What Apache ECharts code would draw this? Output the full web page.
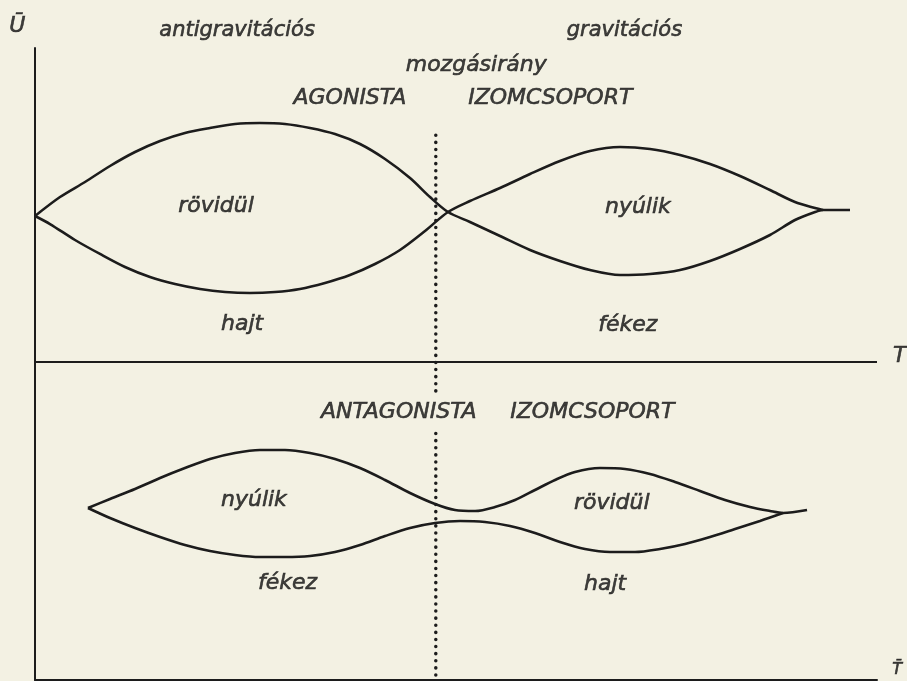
<!DOCTYPE html>
<html>
<head>
    <meta charset="UTF-8">
    <title>Agonista / antagonista izomcsoport</title>
    <script src="https://cdn.jsdelivr.net/npm/echarts@6/dist/echarts.min.js"></script>
</head>
<body style="margin: 0;overflow: hidden;background: #f3f1e3;">
<div id="chart" style="width: 907px;height: 681px;"></div>
<script type="text/javascript">
    // x: 0..100 idő (T), y: 0..100 (U)
    // agonista izomcsoport: felső-bal ív -> keresztezés -> alsó-jobb ív
    var agonistA = [
        [0, 73.42], [2.97, 76.42], [5.94, 78.80], [8.91, 81.33], [11.88, 83.54], [14.85, 85.28],
        [17.81, 86.55], [20.78, 87.34], [23.75, 87.97], [26.72, 88.13], [29.69, 87.97], [32.66, 87.34],
        [35.63, 86.39], [38.60, 84.81], [41.57, 82.44], [44.54, 79.43], [46.91, 76.42], [49.05, 74.05],
        [51.66, 72.47], [55.23, 70.25], [58.79, 68.04], [62.35, 66.30], [65.91, 64.87], [69.48, 64.08],
        [73.04, 64.24], [76.60, 64.87], [80.17, 66.30], [83.73, 68.20], [87.29, 70.41], [90.26, 72.78],
        [92.64, 74.05], [93.59, 74.37], [96.79, 74.37]
    ];
    // alsó-bal ív -> keresztezés -> felső-jobb ív
    var agonistB = [
        [0, 73.42], [1.78, 72.15], [4.75, 69.62], [7.72, 67.41], [10.69, 65.35], [13.66, 63.77],
        [16.63, 62.66], [19.60, 61.87], [22.57, 61.39], [25.53, 61.23], [28.50, 61.39], [31.47, 61.87],
        [34.44, 62.82], [37.41, 64.08], [40.38, 65.82], [43.35, 68.04], [46.32, 71.04], [49.05, 74.05],
        [51.66, 75.79], [55.23, 77.85], [58.79, 80.06], [62.35, 82.12], [65.91, 83.70], [69.48, 84.34],
        [73.04, 84.02], [76.60, 83.07], [80.17, 81.65], [83.73, 79.75], [87.29, 77.53], [90.26, 75.63],
        [92.64, 74.68], [93.59, 74.37]
    ];
    // antagonista izomcsoport
    var antagUpper = [
        [6.29, 27.22], [8.91, 28.64], [11.88, 30.22], [14.85, 31.96], [17.81, 33.54], [20.78, 34.97],
        [23.75, 35.92], [26.72, 36.39], [29.69, 36.39], [32.66, 35.92], [35.63, 34.97], [38.60, 33.54],
        [41.57, 31.65], [44.54, 29.59], [47.51, 27.85], [49.88, 26.90], [52.26, 26.74], [54.63, 27.37],
        [57.01, 28.48], [59.38, 30.06], [61.76, 31.65], [64.13, 32.91], [67.10, 33.54], [70.07, 33.39],
        [73.04, 32.59], [76.01, 31.33], [78.98, 29.91], [81.95, 28.48], [84.92, 27.37], [87.29, 26.74],
        [88.84, 26.42], [91.69, 26.90]
    ];
    var antagLower = [
        [6.29, 27.22], [8.91, 25.63], [11.88, 24.05], [14.85, 22.63], [17.81, 21.36], [20.78, 20.41],
        [23.75, 19.78], [26.72, 19.46], [29.69, 19.46], [32.66, 19.62], [35.63, 20.25], [38.60, 21.36],
        [41.57, 22.78], [44.54, 24.05], [47.51, 24.84], [50.48, 25.16], [53.44, 25.00], [56.41, 24.37],
        [59.38, 23.26], [62.35, 21.84], [65.32, 20.73], [68.29, 20.25], [71.26, 20.25], [74.23, 20.73],
        [77.20, 21.52], [80.17, 22.63], [83.14, 23.89], [86.10, 25.16], [88.84, 26.42]
    ];
    var midAxis = [[0, 50.3], [100, 50.3]];
    // mozgásirány váltás (pontozott)
    var dividerTop = [[47.6, 86.2], [47.6, 45.1]];
    var dividerBottom = [[47.6, 39.0], [47.6, 0]];

    var labelNames = ['Ū', 'antigravitációs', 'gravitációs', 'mozgásirány', 'AGONISTA', 'IZOMCSOPORT',
        'rövidül', 'hajt', 'nyúlik', 'fékez', 'T', 'ANTAGONISTA', 'IZOMCSOPORT',
        'nyúlik', 'fékez', 'rövidül', 'hajt', 'T\u0304'];
    var labelX = [-2.1, 24.0, 70.0, 52.4, 37.4, 61.2, 21.5, 24.6, 71.6, 70.4, 102.7, 43.2, 66.2,
        26.0, 30.0, 68.5, 67.7, 102.4];
    var labelY = [103.4, 102.8, 102.8, 97.2, 92.1, 92.1, 75.0, 56.3, 74.8, 56.2, 51.3, 42.4, 42.4,
        28.5, 15.3, 28.0, 15.2, 1.6];

    var ink = '#1c1c1c';
    var curveStyle = {color: ink, width: 2.6};

    function curve(data) {
        return {
            type: 'line',
            data: data,
            smooth: 0.3,
            symbol: 'none',
            clip: false,
            lineStyle: curveStyle,
            silent: true
        };
    }

    function dotted(data) {
        return {
            type: 'line',
            data: data,
            symbol: 'none',
            clip: false,
            lineStyle: {color: ink, width: 3.5, type: [0.1, 7], cap: 'round'},
            silent: true
        };
    }

    var labelData = labelNames.map(function (name, i) {
        var size = 22;
        if (name === 'T\u0304') size = 16;
        if (name === 'antigravitációs' || name === 'gravitációs') size = 21;
        return {
            name: name,
            value: [labelX[i], labelY[i]],
            label: {fontSize: size}
        };
    });

    var chart = echarts.init(document.getElementById('chart'));
    chart.setOption({
        animation: false,
        backgroundColor: '#f3f1e3',
        grid: {left: 35, right: 30, top: 48, bottom: 1},
        xAxis: {
            type: 'value', min: 0, max: 100,
            axisLine: {show: true, lineStyle: {color: ink, width: 2}},
            axisTick: {show: false}, axisLabel: {show: false}, splitLine: {show: false}
        },
        yAxis: {
            type: 'value', min: 0, max: 100,
            axisLine: {show: true, lineStyle: {color: ink, width: 2}},
            axisTick: {show: false}, axisLabel: {show: false}, splitLine: {show: false}
        },
        series: [
            curve(agonistA),
            curve(agonistB),
            curve(antagUpper),
            curve(antagLower),
            {
                type: 'line',
                data: midAxis,
                symbol: 'none',
                lineStyle: {color: ink, width: 2},
                silent: true
            },
            dotted(dividerTop),
            dotted(dividerBottom),
            {
                type: 'scatter',
                data: labelData,
                symbolSize: 1,
                clip: false,
                itemStyle: {color: 'rgba(0,0,0,0)'},
                label: {
                    show: true,
                    position: 'inside',
                    formatter: '{b}',
                    color: '#111111',
                    textBorderColor: '#111111',
                    textBorderWidth: 0.6,
                    fontFamily: 'DejaVu Sans',
                    fontStyle: 'italic'
                },
                silent: true
            }
        ]
    });
</script>
</body>
</html>
